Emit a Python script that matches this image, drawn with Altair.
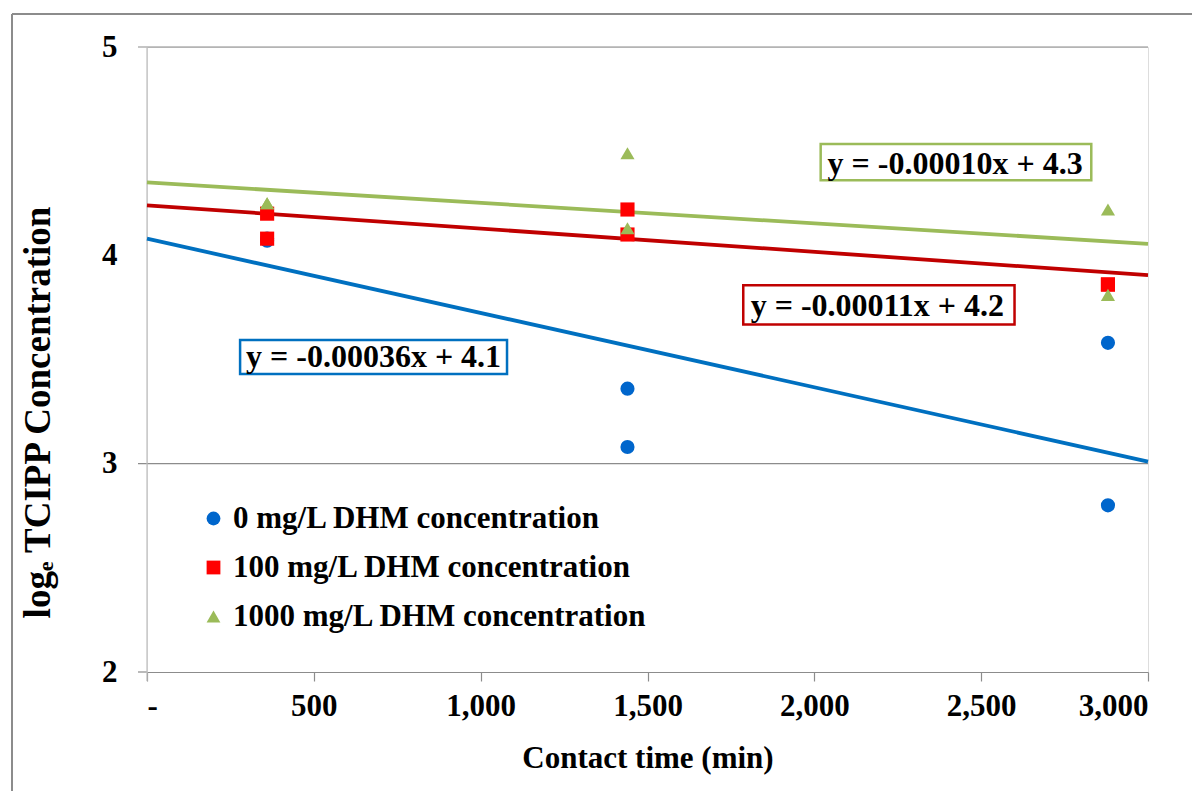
import altair as alt
import pandas as pd

# ---- data ----
series_names = ["0 mg/L DHM concentration", "100 mg/L DHM concentration", "1000 mg/L DHM concentration"]
times = [360, 360, 1440, 1440, 2880, 2880]
log_0 = [4.07, 4.08, 3.36, 3.08, 3.58, 2.80]
log_100 = [4.20, 4.08, 4.22, 4.10, 3.86, 3.86]
log_1000 = [4.25, 4.25, 4.49, 4.13, 4.22, 3.81]

trend_x = [0, 3000]
trend_0 = [4.08, 3.01]
trend_100 = [4.24, 3.905]
trend_1000 = [4.35, 4.055]

eq_labels = ["y = -0.00036x + 4.1", "y = -0.00011x + 4.2", "y = -0.00010x + 4.3"]
eq_x = [679, 2189, 2422]
eq_y = [3.512, 3.759, 4.439]
eq_box_x = [279, 1787, 2019]
eq_box_x2 = [1079, 2600, 2830]
eq_box_y = [3.594, 3.856, 4.534]
eq_box_y2 = [3.430, 3.668, 4.360]

x_ticks = [0, 500, 1000, 1500, 2000, 2500, 3000]
y_ticks = [2, 3, 4, 5]
y_grid = [3, 5]

colors_pts = ["#0066CC", "#FF0000", "#9BBB59"]
colors_line = ["#0070C0", "#C00000", "#9BBB59"]
shapes = ["circle", "square", "triangle-up"]

FONT = "Liberation Serif"

rows = []
for name, vals in zip(series_names, [log_0, log_100, log_1000]):
    for t, v in zip(times, vals):
        rows.append({"t": t, "v": v, "series": name})
pts = pd.DataFrame(rows)

trows = []
for name, vals in zip(series_names, [trend_0, trend_100, trend_1000]):
    for t, v in zip(trend_x, vals):
        trows.append({"t": t, "v": v, "series": name})
trend = pd.DataFrame(trows)

eq = pd.DataFrame({"label": eq_labels, "x": eq_x, "y": eq_y,
                   "bx": eq_box_x, "bx2": eq_box_x2, "by": eq_box_y, "by2": eq_box_y2,
                   "series": series_names})

xs = alt.Scale(domain=[0, 3000], nice=False, zero=False)
ys = alt.Scale(domain=[2, 5], nice=False, zero=False)

color_pts = alt.Scale(domain=series_names, range=colors_pts)
color_line = alt.Scale(domain=series_names, range=colors_line)

one = pd.DataFrame({"a": [0]})

# frame around the whole chart
frame_top = alt.Chart(one).mark_rule(color="#8C8C8C", strokeWidth=2).encode(
    x=alt.value(-135), x2=alt.value(1100), y=alt.value(-33))
frame_left = alt.Chart(one).mark_rule(color="#8C8C8C", strokeWidth=2).encode(
    x=alt.value(-135), y=alt.value(-33), y2=alt.value(800))

# y axis line (light gray)
yline = alt.Chart(one).mark_rule(color="#BFBFBF", strokeWidth=1.2).encode(
    x=alt.value(0), y=alt.value(0), y2=alt.value(634))

grid = alt.Chart(pd.DataFrame({"g": y_grid})).mark_rule(color="#8C8C8C", strokeWidth=1.2).encode(
    y=alt.Y("g:Q", scale=ys), x=alt.value(-9), x2=alt.value(1001))
tick2 = alt.Chart(one).mark_rule(color="#8C8C8C", strokeWidth=1.2).encode(
    y=alt.value(625), x=alt.value(-9), x2=alt.value(0))

base_axis_x = alt.Axis(values=x_ticks, labelExpr="datum.value == 0 ? '-' : format(datum.value, ',')",
                       title="Contact time (min)", grid=False, domainColor="#8C8C8C", domainWidth=1.2,
                       tickColor="#8C8C8C", tickSize=9, tickWidth=1.2,
                       labelFont=FONT, labelFontSize=31, labelFontWeight="bold", labelColor="black",
                       labelPadding=10, titleFont=FONT, titleFontSize=31, titleFontWeight="bold",
                       titleColor="black", titlePadding=22)
base_axis_y = alt.Axis(values=y_ticks, format="d", title="logₑ TCIPP Concentration", grid=False,
                       domain=False, ticks=False, labelFont=FONT, labelFontSize=31,
                       labelFontWeight="bold", labelColor="black", labelPadding=30,
                       titleFont=FONT, titleFontSize=37, titleFontWeight="bold", titleColor="black",
                       titleX=-109, titleY=365, titleAlign="center", titleBaseline="middle",
                       titleAngle=270)

lines = alt.Chart(trend).mark_line(strokeWidth=3.8).encode(
    x=alt.X("t:Q", scale=xs, axis=base_axis_x),
    y=alt.Y("v:Q", scale=ys, axis=base_axis_y),
    color=alt.Color("series:N", scale=color_line, legend=None),
    detail="series:N")

points = alt.Chart(pts).mark_point(filled=True, opacity=1, size=200).encode(
    x=alt.X("t:Q", scale=xs),
    y=alt.Y("v:Q", scale=ys),
    color=alt.Color("series:N", scale=color_pts,
                    legend=alt.Legend(title=None, orient="none", legendX=51, legendY=456,
                                      labelFont=FONT, labelFontSize=31, labelFontWeight="bold",
                                      labelColor="black", symbolSize=190, rowPadding=17,
                                      labelOffset=4, padding=0, labelLimit=600)),
    shape=alt.Shape("series:N", scale=alt.Scale(domain=series_names, range=shapes), legend=None))

boxes = alt.Chart(eq).mark_rect(fill="white", strokeWidth=2.5).encode(
    x="bx:Q", x2="bx2:Q", y="by:Q", y2="by2:Q",
    stroke=alt.Color("series:N", scale=color_line, legend=None))
texts = alt.Chart(eq).mark_text(font=FONT, fontSize=32, fontWeight="bold", color="black").encode(
    x=alt.X("x:Q", scale=xs), y=alt.Y("y:Q", scale=ys), text="label:N")

chart = alt.layer(frame_top, frame_left, grid, tick2, yline, lines, points, boxes, texts).resolve_scale(
    color="independent", shape="independent"
).properties(
    width=1001, height=625,
    autosize=alt.AutoSizeParams(type="none"),
    padding={"left": 139, "top": 39, "right": 44, "bottom": 119},
).configure_view(stroke=None).configure(background="white")

chart.save("out.html", embed_options={"renderer": "svg", "actions": False})
